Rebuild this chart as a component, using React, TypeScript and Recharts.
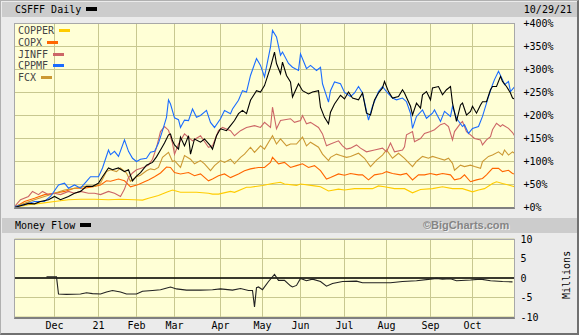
import React from "react";
import { CartesianGrid, Line, LineChart, ReferenceLine, XAxis, YAxis } from "recharts";

// x = trading day index since Nov 2 2020, last bar = 10/29/21 (day 250)
const monthTicks = [20, 42, 61, 80, 103, 124, 143, 165, 186, 208, 229];
const monthLabels = ["Dec", "21", "Feb", "Mar", "Apr", "May", "Jun", "Jul", "Aug", "Sep", "Oct"];
const pctTicks = [0, 50, 100, 150, 200, 250, 300, 350, 400];
const flowTicks = [-10, -5, 0, 5, 10];

// [day, % change]
const csfff = [
  [0, 0], [3, 4], [7, 9], [10, 8], [13, 13], [17, 17], [20, 24], [23, 17], [27, 24], [30, 31], [33, 35],
  [36, 46], [39, 46], [42, 53], [44, 67], [47, 86], [49, 82], [52, 86], [55, 78], [57, 82], [59, 58],
  [61, 68], [63, 76], [66, 92], [69, 98], [71, 110], [73, 125], [75, 140], [77, 158], [78, 160], [79, 145],
  [80, 136], [82, 127], [83, 153], [85, 134], [87, 156], [88, 116], [90, 149], [93, 142], [95, 149],
  [98, 134], [99, 127], [101, 156], [103, 171], [106, 167], [108, 178], [110, 189], [112, 204], [114, 211],
  [116, 204], [118, 233], [121, 254], [123, 251], [125, 265], [128, 305], [130, 338], [131, 313], [133, 291],
  [134, 316], [136, 287], [138, 273], [139, 240], [142, 269], [144, 254], [147, 247], [149, 251], [152, 254],
  [153, 218], [155, 196], [157, 182], [158, 207], [160, 225], [163, 244], [165, 236], [167, 251], [169, 238],
  [172, 234], [174, 249], [176, 205], [178, 201], [180, 234], [182, 249], [184, 260], [185, 274], [187, 252],
  [189, 238], [192, 241], [194, 256], [195, 249], [198, 220], [199, 201], [201, 227], [203, 216], [204, 245],
  [206, 252], [208, 234], [209, 260], [212, 263], [214, 245], [216, 256], [218, 263], [219, 227], [221, 187],
  [223, 223], [224, 227], [226, 201], [228, 209], [229, 220], [231, 205], [233, 223], [234, 230], [236, 230],
  [238, 256], [239, 263], [241, 263], [243, 285], [244, 274], [246, 263], [248, 249], [249, 238], [250, 236],
];

const cppmf = [
  [0, 2], [5, 6], [10, 13], [15, 13], [18, 24], [22, 49], [25, 53], [27, 42], [30, 49], [33, 42], [36, 57],
  [38, 67], [42, 67], [44, 86], [47, 125], [48, 115], [50, 122], [52, 111], [55, 147], [57, 122], [59, 107],
  [61, 100], [63, 105], [66, 107], [68, 120], [70, 122], [72, 140], [74, 167], [76, 196], [77, 234], [78, 225],
  [80, 195], [82, 191], [83, 174], [85, 190], [87, 189], [89, 214], [91, 196], [93, 200], [96, 211], [98, 185],
  [100, 174], [103, 193], [105, 211], [108, 204], [109, 214], [112, 233], [114, 254], [116, 251], [118, 287],
  [121, 324], [123, 309], [125, 284], [128, 349], [129, 385], [131, 371], [133, 331], [134, 338], [137, 313],
  [139, 305], [142, 298], [143, 334], [146, 302], [148, 309], [151, 298], [153, 305], [154, 269], [157, 229],
  [158, 254], [160, 273], [163, 269], [165, 250], [168, 241], [170, 249], [172, 263], [174, 249], [177, 190],
  [179, 220], [182, 252], [184, 263], [186, 252], [189, 238], [191, 234], [194, 238], [196, 230], [198, 205],
  [199, 172], [201, 198], [204, 212], [206, 194], [209, 205], [210, 212], [213, 187], [215, 209], [218, 198],
  [219, 220], [221, 194], [224, 176], [225, 180], [227, 161], [229, 172], [232, 176], [234, 198], [237, 241],
  [239, 267], [240, 278], [242, 296], [244, 278], [245, 267], [247, 274], [248, 252], [250, 262],
];

const jinff = [
  [0, 2], [3, 17], [7, 24], [9, 35], [12, 28], [14, 35], [17, 28], [20, 31], [23, 28], [27, 35], [30, 31],
  [33, 35], [37, 31], [40, 31], [43, 28], [47, 35], [50, 31], [53, 24], [55, 40], [57, 65], [59, 75],
  [61, 82], [63, 85], [65, 88], [67, 92], [69, 105], [71, 130], [73, 165], [75, 176], [77, 168], [79, 140],
  [80, 116], [82, 138], [85, 160], [89, 145], [93, 156], [97, 131], [99, 134], [102, 167], [104, 174],
  [108, 167], [110, 156], [113, 167], [116, 174], [120, 178], [123, 174], [125, 185], [128, 174], [129, 218],
  [131, 171], [133, 189], [138, 193], [140, 185], [143, 189], [144, 200], [146, 182], [148, 185], [152, 174],
  [154, 160], [156, 134], [158, 138], [162, 145], [164, 134], [166, 127], [168, 129], [171, 136], [173, 129],
  [176, 121], [180, 125], [184, 129], [186, 121], [188, 140], [190, 121], [194, 125], [195, 132], [196, 158],
  [199, 165], [200, 143], [203, 150], [205, 161], [208, 165], [210, 169], [213, 180], [215, 183], [217, 176],
  [219, 147], [220, 165], [223, 183], [224, 187], [226, 165], [228, 158], [230, 150], [233, 147], [234, 136],
  [236, 147], [238, 154], [239, 169], [241, 183], [243, 176], [244, 180], [247, 172], [249, 163], [250, 156],
];

const fcx = [
  [0, 2], [5, 9], [10, 17], [15, 24], [20, 31], [25, 38], [30, 42], [35, 46], [40, 46], [43, 53], [46, 78],
  [48, 82], [51, 78], [53, 86], [56, 75], [58, 57], [61, 67], [63, 70], [66, 80], [68, 84], [70, 82], [72, 87],
  [74, 109], [77, 120], [79, 100], [80, 102], [83, 87], [85, 113], [88, 105], [90, 95], [93, 102], [95, 95],
  [98, 80], [100, 91], [103, 102], [105, 98], [108, 105], [110, 95], [113, 109], [115, 116], [118, 131],
  [120, 120], [123, 134], [125, 127], [128, 149], [129, 156], [131, 138], [133, 149], [136, 134], [138, 138],
  [141, 138], [144, 153], [146, 134], [148, 142], [152, 131], [154, 116], [157, 102], [158, 109], [161, 116],
  [163, 113], [166, 109], [168, 111], [172, 118], [175, 107], [178, 89], [181, 103], [184, 114], [186, 125],
  [189, 107], [192, 118], [195, 107], [199, 89], [201, 100], [204, 111], [207, 107], [209, 111], [212, 107],
  [215, 103], [217, 107], [219, 96], [220, 81], [223, 92], [225, 89], [228, 92], [230, 89], [233, 85],
  [234, 100], [237, 111], [239, 114], [242, 121], [244, 114], [245, 125], [247, 114], [249, 121], [250, 118],
];

const copx = [
  [0, 0], [5, 13], [10, 20], [15, 28], [20, 31], [25, 35], [30, 42], [35, 42], [40, 46], [43, 49], [46, 58],
  [48, 57], [52, 62], [55, 58], [58, 45], [62, 50], [65, 56], [67, 60], [70, 67], [73, 75], [76, 88], [78, 87],
  [80, 76], [83, 73], [87, 76], [90, 69], [93, 73], [97, 58], [99, 62], [102, 69], [105, 73], [108, 65],
  [112, 73], [115, 80], [118, 84], [122, 87], [125, 87], [128, 98], [129, 109], [132, 95], [135, 98], [138, 87],
  [141, 91], [144, 95], [147, 87], [150, 91], [153, 80], [156, 62], [158, 65], [162, 73], [165, 70], [168, 74],
  [172, 71], [174, 71], [177, 60], [180, 71], [184, 74], [186, 78], [189, 74], [193, 71], [196, 74], [199, 60],
  [202, 71], [205, 71], [208, 74], [211, 71], [214, 74], [218, 71], [220, 60], [223, 63], [225, 71], [228, 56],
  [231, 60], [234, 63], [236, 71], [239, 85], [242, 85], [244, 78], [247, 81], [249, 74], [250, 73],
];

const copper = [
  [0, 0], [7, 6], [13, 9], [20, 13], [27, 17], [33, 18], [40, 18], [47, 17], [53, 18], [60, 17], [64, 16],
  [67, 20], [72, 26], [76, 33], [79, 38], [83, 33], [88, 33], [91, 33], [97, 31], [99, 29], [102, 29],
  [108, 35], [110, 33], [116, 44], [118, 44], [124, 48], [129, 52], [133, 55], [135, 51], [141, 48], [143, 51],
  [150, 47], [153, 45], [157, 36], [162, 40], [165, 38], [170, 41], [175, 41], [179, 41], [182, 47], [185, 45],
  [190, 41], [195, 41], [199, 32], [203, 39], [209, 41], [214, 45], [219, 41], [224, 41], [229, 34], [232, 38],
  [235, 41], [239, 52], [241, 56], [244, 52], [247, 49], [250, 45],
];

// [day, millions]
const moneyFlow = [
  [16, 0.3], [21, 0.3], [22, -4.1], [26, -4.2], [33, -4.1], [36, -3.8], [39, -4.0], [43, -4.1], [46, -3.6],
  [49, -3.2], [53, -3.6], [56, -4.1], [61, -4.1], [64, -3.4], [69, -3.2], [73, -3.0], [78, -2.3], [81, -2.8],
  [86, -3.1], [93, -3.1], [99, -3.0], [103, -2.8], [109, -3.1], [113, -2.7], [117, -3.2], [119, -3.2],
  [120, -7.4], [121, -2.5], [122, -2.3], [124, -3.0], [127, -0.9], [130, 0.9], [132, -0.6], [135, -0.6],
  [138, -2.0], [139, -2.3], [141, -1.9], [143, -0.1], [146, -0.7], [149, -0.3], [153, -0.9], [156, -2.1],
  [159, -1.4], [164, -0.9], [171, -0.8], [174, -1.2], [181, -1.2], [188, -1.2], [194, -0.9], [201, -0.7],
  [208, -0.3], [211, -0.1], [214, -0.3], [218, -0.2], [221, -0.7], [228, -0.5], [233, -0.3], [238, -0.7],
  [244, -0.9], [249, -1.0],
];

const MONO = "'DejaVu Sans Mono', monospace";
const PLOT_BG = "#ffffd6";
const GRID = "#c8c890";

// plot geometry shared by both panels
const PLOT_LEFT = 14.5;
const PLOT_RIGHT_PAD = 4.5;
const AXIS_W = 60;
const CHART_W = 579;
const PLOT_W = CHART_W - PLOT_LEFT - PLOT_RIGHT_PAD - AXIS_W;
const DAYS = 250;

const toRows = (pairs: number[][]) => pairs.map(([d, v]) => ({ d, v }));
const flowRows = toRows(moneyFlow);

// drawn bottom to top
const series = [
  { name: "COPPER", color: "#ffcc00", data: toRows(copper) },
  { name: "COPX", color: "#ff6600", data: toRows(copx) },
  { name: "FCX", color: "#cc9933", data: toRows(fcx) },
  { name: "JINFF", color: "#cc6666", data: toRows(jinff) },
  { name: "CPPMF", color: "#1a6cff", data: toRows(cppmf) },
  { name: "CSFFF", color: "#000000", data: toRows(csfff) },
];
const legendOrder = ["COPPER", "COPX", "JINFF", "CPPMF", "FCX"];

const monthLabel = (v: number) => monthLabels[monthTicks.indexOf(v)] ?? "";

// plot background + month gridlines, sitting under the transparent svg
const PlotBack = ({ top, height }: { top: number; height: number }) => (
  <div style={{ position: "absolute", left: PLOT_LEFT - 0.5, top, width: PLOT_W + 1, height, background: PLOT_BG }}>
    {monthTicks.map((t) => (
      <div key={t} style={{ position: "absolute", left: (t / DAYS) * PLOT_W, top: 0, width: 1, height, background: GRID }} />
    ))}
  </div>
);

const bar = (top: number): React.CSSProperties => ({
  position: "absolute",
  left: 2,
  top,
  width: 575,
  height: 15,
  background: "#cccccc",
});

const Swatch = ({ color, h }: { color: string; h: number }) => (
  <span style={{ display: "inline-block", width: 11, height: h, background: color, marginLeft: 5, verticalAlign: "top", marginTop: h === 4 ? 5 : 4 }} />
);

export default function App() {
  return (
    <div style={{ position: "fixed", left: 0, top: 0, width: 579, height: 335, background: "#ebebeb", fontFamily: MONO, fontSize: 10, color: "#000" }}>
      <div style={bar(2)}>
        <div style={{ position: "absolute", left: 13, top: 0, lineHeight: "15px", whiteSpace: "pre" }}>
          CSFFF Daily<Swatch color="#000" h={4} />
        </div>
        <div style={{ position: "absolute", right: 5, top: 0, lineHeight: "15px" }}>10/29/21</div>
      </div>

      <PlotBack top={23} height={185} />
      <div style={{ position: "absolute", left: 0, top: 0 }}>
        <LineChart width={CHART_W} height={215} margin={{ top: 23.5, right: PLOT_RIGHT_PAD, bottom: 7.5, left: PLOT_LEFT }}>
          <CartesianGrid stroke={GRID} strokeWidth={1} vertical={false} />
          <XAxis
            type="number"
            dataKey="d"
            domain={[0, DAYS]}
            ticks={monthTicks}
            interval={0}
            height={0}
            axisLine={false}
            tickLine={false}
            tick={{ fontSize: 1, fill: "none" }}
            tickFormatter={() => ""}
          />
          <YAxis
            orientation="right"
            type="number"
            domain={[0, 400]}
            ticks={pctTicks}
            interval={0}
            width={AXIS_W}
            axisLine={false}
            tickLine={false}
            tickSize={6}
            tickMargin={3}
            tick={{ fontSize: 10, fill: "#000", fontFamily: MONO }}
            tickFormatter={(v: number) => `+${v}%`}
          />
          {series.map((s) => (
            <Line key={s.name} data={s.data} dataKey="v" type="linear" stroke={s.color} strokeWidth={1.1} dot={false} isAnimationActive={false} />
          ))}
        </LineChart>
      </div>
      <div style={{ position: "absolute", left: 14, top: 23, width: 501, height: 186, boxSizing: "border-box", border: "1px solid #a8a8a8", borderBottom: "2px solid #808080", pointerEvents: "none" }} />

      <div style={{ position: "absolute", left: 18, top: 25, lineHeight: "11.75px", color: "#444" }}>
        {legendOrder.map((n) => {
          const s = series.find((x) => x.name === n)!;
          return (
            <div key={n} style={{ height: 11.75, whiteSpace: "pre" }}>
              {n}
              <Swatch color={s.color} h={3} />
            </div>
          );
        })}
      </div>

      <div style={bar(218)}>
        <div style={{ position: "absolute", left: 13, top: 0, lineHeight: "15px", whiteSpace: "pre" }}>
          Money Flow<Swatch color="#000" h={4} />
        </div>
        <div style={{ position: "absolute", left: 421, top: 0, lineHeight: "15px", fontFamily: "'Liberation Sans', Arial, sans-serif", fontWeight: "bold", fontSize: 11, color: "#858585", textShadow: "1px 1px 0 #eeeeee" }}>
          ©BigCharts.com
        </div>
      </div>

      <PlotBack top={239} height={79} />
      <div style={{ position: "absolute", left: 0, top: 230 }}>
        <LineChart width={CHART_W} height={105} margin={{ top: 9, right: PLOT_RIGHT_PAD, bottom: 2, left: PLOT_LEFT }}>
          <CartesianGrid stroke={GRID} strokeWidth={1} vertical={false} />
          <XAxis
            type="number"
            dataKey="d"
            domain={[0, DAYS]}
            ticks={monthTicks}
            interval={0}
            height={16}
            axisLine={false}
            tickLine={false}
            tickSize={3}
            tickMargin={2}
            tick={{ fontSize: 10, fill: "#000", fontFamily: MONO }}
            tickFormatter={monthLabel}
          />
          <YAxis
            orientation="right"
            type="number"
            domain={[-10, 10]}
            ticks={flowTicks}
            interval={0}
            width={AXIS_W}
            axisLine={false}
            tickLine={false}
            tickSize={3}
            tickMargin={3}
            tick={{ fontSize: 10, fill: "#000", fontFamily: MONO }}
          />
          <ReferenceLine y={0} stroke="#000" strokeWidth={1.5} />
          <Line data={flowRows} dataKey="v" type="linear" stroke="#222" strokeWidth={1.1} dot={false} isAnimationActive={false} />
        </LineChart>
      </div>
      <div style={{ position: "absolute", left: 14, top: 239, width: 501, height: 80, boxSizing: "border-box", border: "1px solid #a8a8a8", borderBottom: "2px solid #808080", pointerEvents: "none" }} />
      <div style={{ position: "absolute", left: 542, top: 271, width: 48, textAlign: "center", transform: "rotate(-90deg)", transformOrigin: "24px 4px", lineHeight: "10px", whiteSpace: "pre" }}>
        Millions
      </div>

      <div style={{ position: "absolute", left: 0, top: 0, width: 579, height: 335, boxSizing: "border-box", borderTop: "1px solid #b0b0b0", borderLeft: "1px solid #b0b0b0", borderRight: "2px solid #707070", borderBottom: "2px solid #707070", pointerEvents: "none" }} />
    </div>
  );
}
